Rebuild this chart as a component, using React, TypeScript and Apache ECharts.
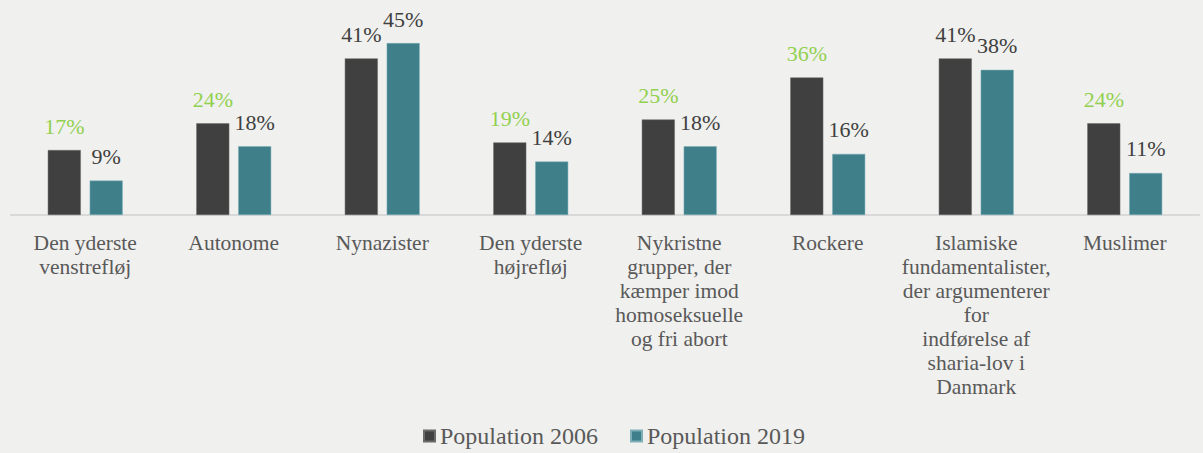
import React, { useEffect, useRef } from "react";
import * as echarts from "echarts";

const categories = [
  "Den yderste\nvenstrefløj",
  "Autonome",
  "Nynazister",
  "Den yderste\nhøjrefløj",
  "Nykristne\ngrupper, der\nkæmper imod\nhomoseksuelle\nog fri abort",
  "Rockere",
  "Islamiske\nfundamentalister,\nder argumenterer\nfor\nindførelse af\nsharia-lov i\nDanmark",
  "Muslimer",
];
const pop2006 = [17, 24, 41, 19, 25, 36, 41, 24];
const pop2019 = [9, 18, 45, 14, 18, 16, 38, 11];
const labelGreen2006 = [true, true, false, true, true, true, false, true];

const BG = "#f0f0ee";
const DARK = "#404040";
const TEAL = "#3e7f8a";
const GREEN = "#92d050";
const TEXT = "#595959";
const FONT = "Liberation Serif";

export default function App() {
  const ref = useRef<HTMLDivElement>(null);
  useEffect(() => {
    if (!ref.current) return;
    const chart = echarts.init(ref.current, undefined, { renderer: "svg" });
    chart.setOption({
      animation: false,
      backgroundColor: BG,
      textStyle: { fontFamily: FONT },
      grid: { left: 11, right: 4, top: 24, bottom: 238, containLabel: false },
      legend: {
        bottom: 0,
        left: 418,
        itemWidth: 11,
        itemHeight: 11,
        itemGap: 32,
        icon: "rect",
        textStyle: { fontFamily: FONT, fontSize: 24, color: TEXT },
        data: ["Population 2006", "Population 2019"],
      },
      xAxis: {
        type: "category",
        data: categories,
        axisLine: { lineStyle: { color: "#d9d9d9", width: 2 } },
        axisTick: { show: false },
        axisLabel: {
          interval: 0,
          margin: 16,
          fontFamily: FONT,
          fontSize: 21.5,
          lineHeight: 24,
          color: TEXT,
          align: "center",
        },
      },
      yAxis: {
        type: "value",
        min: 0,
        max: 50,
        show: false,
        splitLine: { show: false },
      },
      series: [
        {
          name: "Population 2006",
          type: "bar",
          barWidth: 33,
          barGap: "27%",
          itemStyle: { color: DARK, borderColor: "#6a6a6a", borderWidth: 0.5 },
          data: pop2006.map((v, i) => ({
            value: v,
            label: { color: labelGreen2006[i] ? GREEN : DARK },
          })),
          label: {
            show: true,
            position: "top",
            distance: 13,
            fontFamily: FONT,
            fontSize: 22,
            formatter: "{c}%",
          },
        },
        {
          name: "Population 2019",
          type: "bar",
          barWidth: 33,
          itemStyle: { color: TEAL, borderColor: "#7fb0b8", borderWidth: 0.5 },
          data: pop2019,
          label: {
            show: true,
            position: "top",
            distance: 13,
            fontFamily: FONT,
            fontSize: 22,
            color: DARK,
            formatter: "{c}%",
          },
        },
      ],
    });
    return () => chart.dispose();
  }, []);
  return (
    <div
      ref={ref}
      style={{ position: "fixed", left: 0, top: 0, width: 1203, height: 453, background: BG }}
    />
  );
}
